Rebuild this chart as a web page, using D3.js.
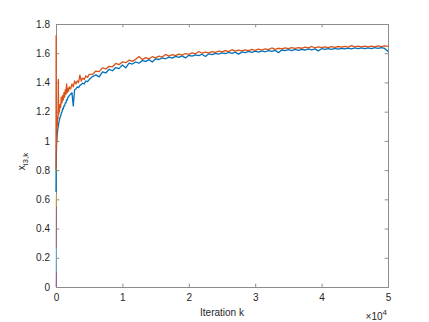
<!DOCTYPE html>
<html>
<head>
<meta charset="utf-8">
<title>x_{i3,k} vs iteration</title>
<script src="https://cdn.jsdelivr.net/npm/d3@7"></script>
<style>
  body { margin: 0; background: #fff; }
  svg text { font-family: "Liberation Sans", Arial, sans-serif; fill: #262626; }
</style>
</head>
<body>
<div id="chart"></div>
<script>

// iteration indices (x values)
var iters = [0,20,40,60,80,100,150,200,250,300,350,400,450,500,600,700,800,900,1000,1100,1200,1300,1400,1500,
  1600,1700,1800,1900,2000,2200,2400,2600,2800,3000,3200,3400,3600,3800,4000,4250,4500,4750,5000,
  5500,6000,6500,7000,7500,8000,8500,9000,9500,10000,
  10500,11000,11500,12000,12500,13000,13500,14000,14500,15000,
  15500,16000,16500,17000,17500,18000,18500,19000,19500,20000,
  20500,21000,21500,22000,22500,23000,23500,24000,24500,25000,
  25500,26000,26500,27000,27500,28000,28500,29000,29500,30000,
  30500,31000,31500,32000,32500,33000,33500,34000,34500,35000,
  35500,36000,36500,37000,37500,38000,38500,39000,39500,40000,
  40500,41000,41500,42000,42500,43000,43500,44000,44500,45000,
  45500,46000,46500,47000,47500,48000,48500,49000,49500,50000];

// series 1 (blue)
var blueVals = [0.65,0.78,0.86,0.92,0.96,0.99,1.02,1.05,1.07,1.09,1.10,1.12,1.13,1.14,1.16,1.17,1.19,1.20,1.22,1.22,
  1.24,1.24,1.26,1.26,1.28,1.28,1.30,1.30,1.31,1.32,1.33,1.24,1.35,1.355,1.37,1.365,1.38,1.385,1.395,1.39,1.41,1.405,1.42,
  1.44,1.452,1.438,1.472,1.465,1.49,1.48,1.502,1.495,1.52,
  1.5,1.532,1.526,1.54,1.532,1.55,1.544,1.556,1.54,1.562,
  1.557,1.568,1.562,1.573,1.566,1.578,1.572,1.582,1.568,1.586,
  1.58,1.589,1.584,1.593,1.578,1.596,1.591,1.599,1.594,1.602,
  1.597,1.605,1.599,1.607,1.594,1.609,1.604,1.612,1.606,1.614,
  1.608,1.616,1.61,1.618,1.612,1.62,1.604,1.622,1.617,1.624,
  1.618,1.626,1.62,1.627,1.622,1.629,1.623,1.63,1.616,1.631,
  1.626,1.632,1.627,1.633,1.628,1.634,1.629,1.635,1.63,1.636,
  1.631,1.637,1.632,1.637,1.632,1.638,1.633,1.638,1.633,1.612];

// series 2 (orange)
var orangeVals = [0.80,1.72,0.95,1.05,1.00,1.08,1.12,1.10,1.17,1.15,1.42,1.18,1.22,1.20,1.25,1.23,1.30,1.26,1.31,1.28,
  1.33,1.30,1.35,1.32,1.39,1.33,1.36,1.34,1.37,1.355,1.39,1.37,1.41,1.39,1.41,1.40,1.45,1.41,1.43,1.42,1.445,1.435,1.455,
  1.455,1.478,1.474,1.50,1.492,1.51,1.507,1.53,1.522,1.54,
  1.535,1.552,1.544,1.558,1.578,1.556,1.57,1.562,1.576,1.568,
  1.58,1.574,1.592,1.58,1.59,1.583,1.594,1.587,1.598,1.592,
  1.602,1.596,1.612,1.6,1.608,1.603,1.611,1.606,1.614,1.609,
  1.617,1.611,1.624,1.614,1.621,1.616,1.623,1.618,1.626,1.62,
  1.628,1.622,1.63,1.625,1.636,1.627,1.634,1.629,1.636,1.631,
  1.638,1.633,1.639,1.634,1.641,1.636,1.646,1.637,1.643,1.638,
  1.644,1.639,1.645,1.64,1.646,1.641,1.647,1.642,1.652,1.643,
  1.648,1.643,1.649,1.644,1.649,1.644,1.65,1.645,1.65,1.647];

// short runs near k = 0 (series 3..7)
var shortIters = [0, 15, 30];
var yellowVals = [0.55, 0.60, 0.63];
var purpleVals = [0.00, 0.05, 0.10];
var greenVals = [0.78, 0.80, 0.82];
var lightBlueVals = [0.10, 0.20, 0.27];
var darkRedVals = [0.27, 0.42, 0.55];

var xTicks = [0, 10000, 20000, 30000, 40000, 50000];
var yTicks = [0, 0.2, 0.4, 0.6, 0.8, 1, 1.2, 1.4, 1.6, 1.8];

var width = 429, height = 322;
var margin = {top: 24, right: 41, bottom: 35, left: 56};
var w = width - margin.left - margin.right,
    h = height - margin.top - margin.bottom;

var svg = d3.select("#chart").append("svg")
  .attr("width", width).attr("height", height);

var g = svg.append("g").attr("transform", "translate(" + margin.left + "," + margin.top + ")");

var x = d3.scaleLinear().domain([0, 50000]).range([0, w]);
var y = d3.scaleLinear().domain([0, 1.8]).range([h, 0]);

svg.append("defs").append("clipPath").attr("id", "plotclip")
  .append("rect").attr("x", -1).attr("y", -1).attr("width", w + 1).attr("height", h + 1);

var line = d3.line()
  .x(function(d) { return x(d[0]); })
  .y(function(d) { return y(d[1]); });

// axes (ticks pointing inward, box on)
var axisColor = "#8c8c8c";
var tl = 3.3;

var xAxis = g.append("g").attr("transform", "translate(0," + h + ")")
  .call(d3.axisBottom(x).tickValues(xTicks).tickSize(-tl).tickPadding(7)
    .tickFormat(function(d) { return d / 10000; }));
var yAxis = g.append("g")
  .call(d3.axisLeft(y).tickValues(yTicks).tickSize(-tl).tickPadding(6)
    .tickFormat(d3.format("~g")));
var xTop = g.append("g")
  .call(d3.axisTop(x).tickValues(xTicks).tickSize(-tl).tickFormat(""));
var yRight = g.append("g").attr("transform", "translate(" + w + ",0)")
  .call(d3.axisRight(y).tickValues(yTicks).tickSize(-tl).tickFormat(""));

[xAxis, yAxis, xTop, yRight].forEach(function(a) {
  a.select(".domain").attr("stroke", axisColor);
  a.selectAll(".tick line").attr("stroke", axisColor);
  a.selectAll(".tick text").style("font-size", "10px").attr("fill", "#262626");
});

// data lines
var series = [
  {xs: iters, ys: blueVals, color: "#0072BD", op: 1, sw: 1.3},
  {xs: iters, ys: orangeVals, color: "#D95319", op: 1, sw: 1.3},
  {xs: shortIters, ys: yellowVals, color: "#EDB120", op: 0.7, sw: 1},
  {xs: shortIters, ys: purpleVals, color: "#7E2F8E", op: 0.6, sw: 1},
  {xs: shortIters, ys: greenVals, color: "#77AC30", op: 0.6, sw: 1},
  {xs: shortIters, ys: lightBlueVals, color: "#4DBEEE", op: 0.7, sw: 1},
  {xs: shortIters, ys: darkRedVals, color: "#A2142F", op: 0.4, sw: 1}
];

var plot = g.append("g").attr("clip-path", "url(#plotclip)");
plot.selectAll("path")
  .data(series)
  .enter().append("path")
  .attr("fill", "none")
  .attr("stroke", function(d) { return d.color; })
  .attr("stroke-opacity", function(d) { return d.op; })
  .attr("stroke-width", function(d) { return d.sw; })
  .attr("stroke-linejoin", "round")
  .attr("d", function(d) { return line(d.xs.map(function(k, i) { return [k, d.ys[i]]; })); });

// labels
g.append("text")
  .attr("x", w / 2).attr("y", h + 29)
  .attr("text-anchor", "middle")
  .style("font-size", "10px")
  .text("Iteration k");

var mult = g.append("text")
  .attr("x", w - 1).attr("y", h + 33)
  .attr("text-anchor", "end")
  .style("font-size", "10px");
mult.append("tspan").text("\u00d710");
mult.append("tspan").attr("dy", -5).style("font-size", "8px").text("4");

var ylab = g.append("text")
  .attr("transform", "translate(" + (-31) + "," + (h / 2 + 6) + ") rotate(-90)")
  .attr("text-anchor", "middle")
  .style("font-size", "10px");
ylab.append("tspan").text("x");
ylab.append("tspan").attr("dy", 3).style("font-size", "8px").text("i3,k");

</script>
</body>
</html>
